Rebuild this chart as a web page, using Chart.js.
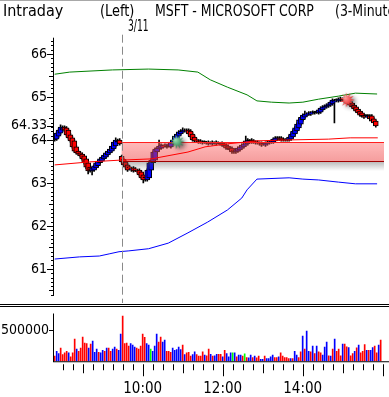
<!DOCTYPE html>
<html>
<head>
<meta charset="utf-8">
<script src="https://cdn.jsdelivr.net/npm/chart.js@4.4.1/dist/chart.umd.min.js"></script>
<style>
html, body { margin:0; padding:0; background:#fff; }
body { width:389px; height:397px; overflow:hidden; position:relative;
       font-family:'DejaVu Sans Condensed','DejaVu Sans',sans-serif; }
#topline { position:absolute; left:0; top:0; width:389px; height:1px; background:#a8a8a8; }
.t { position:absolute; font-size:16px; line-height:16px; white-space:nowrap; color:#000; transform-origin:0 0; }
canvas { position:absolute; left:0; top:0; }
</style>
</head>
<body>
<div id="topline"></div>
<canvas id="priceChart" width="389" height="397"></canvas>
<canvas id="volumeChart" width="389" height="397"></canvas>
<div class="t" style="left:3px;top:3px">Intraday</div>
<div class="t" style="left:100px;top:3px;transform:scaleX(0.9)">(Left)</div>
<div class="t" style="left:155px;top:3px;transform:scaleX(0.87)">MSFT - MICROSOFT CORP</div>
<div class="t" style="left:335px;top:3px;transform:scaleX(0.87)">(3-Minute)</div>
<div class="t" style="left:128px;top:19px;font-size:15px;line-height:15px;transform:scaleX(0.68)">3/11</div>
<script>
// time in minutes from the 3/11 open (9:30); the previous session (3/10) is negative
const axisStart = -103
const axisEnd = 399.5
const sessionBreak = 0

// previous session 3/10, 14:18 - 16:00, 3-minute bars
const prevOpen  = [64.00,64.02,64.09,64.16,64.23,64.30,64.28,64.23,64.12,64.05,63.98,63.84,63.74,63.70,63.67,63.63,63.56,63.47,63.37,63.28,63.30,63.35,63.40,63.47,63.51,63.56,63.60,63.65,63.70,63.74,63.79,63.86,63.95,64.00]
const prevHigh  = [64.12,64.19,64.26,64.35,64.33,64.33,64.31,64.26,64.15,64.08,64.01,63.87,63.77,63.73,63.70,63.66,63.59,63.50,63.40,63.37,63.42,63.49,63.53,63.58,63.62,63.67,63.72,63.76,63.81,63.88,63.98,64.05,64.02,64.03]
const prevLow   = [63.97,63.99,64.06,64.13,64.20,64.20,64.09,64.02,63.95,63.81,63.71,63.67,63.64,63.60,63.53,63.44,63.33,63.21,63.25,63.19,63.27,63.32,63.37,63.44,63.48,63.53,63.57,63.62,63.67,63.71,63.76,63.83,63.93,63.88]
const prevClose = [64.09,64.16,64.23,64.30,64.28,64.23,64.12,64.05,63.98,63.84,63.74,63.70,63.67,63.63,63.56,63.47,63.37,63.28,63.30,63.35,63.40,63.47,63.51,63.56,63.60,63.65,63.70,63.74,63.79,63.86,63.95,64.00,63.95,63.91]
const prevVolume = [81000,161000,124000,210000,108000,134000,161000,134000,69000,134000,355000,194000,161000,210000,387000,290000,285000,210000,274000,323000,145000,194000,145000,134000,177000,161000,210000,210000,161000,194000,226000,194000,177000,435000]
const prevVolDir = "duuddddudd" + "dudddddudu" + "uuduududdu" + "uduu"

// session 3/11, 9:30 - 15:57, 3-minute bars
const dayOpen = [
  63.62,63.55,63.49,63.42,63.37,63.30,63.35,63.33,63.28,63.30,
  63.26,63.19,63.12,63.07,63.12,63.30,63.47,63.53,63.72,63.79,
  63.81,63.86,63.88,63.84,63.86,63.84,63.91,63.95,64.00,64.09,
  64.14,64.19,64.21,64.23,64.23,64.21,64.14,64.07,64.00,63.98,
  63.98,63.95,63.95,63.93,63.95,63.93,63.91,63.93,63.95,63.93,
  63.91,63.93,63.91,63.88,63.86,63.81,63.81,63.77,63.72,63.74,
  63.77,63.81,63.84,63.88,63.91,63.98,64.00,63.98,63.95,63.95,
  63.93,63.93,63.91,63.88,63.91,63.93,63.95,63.95,63.98,64.02,
  64.05,64.05,64.02,64.00,64.00,64.00,64.02,64.07,64.14,64.21,
  64.28,64.37,64.47,64.53,64.58,64.60,64.60,64.63,64.63,64.65,
  64.63,64.65,64.70,64.74,64.77,64.79,64.81,64.84,64.88,64.93,
  64.91,64.93,64.95,64.95,64.93,64.91,64.88,64.86,64.81,64.77,
  64.72,64.67,64.63,64.58,64.56,64.53,64.56,64.56,64.49,64.44]
const dayHigh = [
  63.65,63.58,63.52,63.45,63.40,63.36,63.38,63.36,63.31,63.33,
  63.29,63.22,63.15,63.33,63.50,63.56,63.75,63.82,63.84,64.00,
  63.91,63.89,63.91,63.87,63.94,63.98,64.03,64.12,64.17,64.22,
  64.24,64.28,64.26,64.26,64.26,64.24,64.17,64.10,64.03,64.01,
  64.01,63.98,63.98,63.96,63.98,63.96,63.98,63.96,63.98,63.96,
  63.94,63.96,63.94,63.91,63.89,63.84,63.84,63.80,63.80,63.84,
  63.87,63.91,63.94,64.09,64.03,64.01,64.03,64.01,63.98,63.98,
  63.96,63.96,63.94,63.96,63.98,63.98,64.01,64.05,64.08,64.08,
  64.08,64.08,64.05,64.03,64.05,64.10,64.17,64.24,64.31,64.40,
  64.50,64.56,64.61,64.67,64.63,64.66,64.66,64.68,64.66,64.68,
  64.73,64.77,64.80,64.82,64.84,64.87,64.91,64.96,64.94,64.96,
  64.98,65.00,64.98,64.98,64.96,64.94,64.91,64.89,64.84,64.80,
  64.75,64.70,64.66,64.61,64.59,64.59,64.59,64.59,64.52,64.47]
const dayLow = [
  63.46,63.39,63.34,63.27,63.32,63.27,63.25,63.27,63.23,63.16,
  63.09,63.00,63.04,63.04,63.09,63.27,63.44,63.50,63.69,63.76,
  63.78,63.81,63.83,63.81,63.83,63.81,63.88,63.92,63.97,64.06,
  64.11,64.16,64.18,64.18,64.11,64.04,63.97,63.95,63.95,63.92,
  63.92,63.90,63.92,63.90,63.88,63.90,63.88,63.90,63.88,63.90,
  63.88,63.85,63.83,63.78,63.78,63.74,63.69,63.69,63.69,63.71,
  63.74,63.78,63.81,63.85,63.88,63.95,63.92,63.92,63.90,63.90,
  63.88,63.85,63.88,63.85,63.88,63.90,63.92,63.92,63.95,63.99,
  63.99,63.97,63.97,63.97,63.97,63.97,63.99,64.04,64.11,64.18,
  64.25,64.34,64.44,64.50,64.55,64.57,64.57,64.60,64.60,64.62,
  64.60,64.62,64.67,64.71,64.74,64.76,64.78,64.81,64.40,64.90,
  64.88,64.90,64.90,64.88,64.85,64.83,64.78,64.74,64.69,64.64,
  64.60,64.55,64.53,64.50,64.53,64.50,64.46,64.41,64.37,64.30]
const dayClose = [
  63.49,63.42,63.37,63.30,63.35,63.33,63.28,63.30,63.26,63.19,
  63.12,63.07,63.12,63.30,63.47,63.53,63.72,63.79,63.81,63.86,
  63.88,63.84,63.86,63.84,63.91,63.95,64.00,64.09,64.14,64.19,
  64.21,64.23,64.23,64.21,64.14,64.07,64.00,63.98,63.98,63.95,
  63.95,63.93,63.95,63.93,63.91,63.93,63.95,63.93,63.91,63.93,
  63.91,63.88,63.86,63.81,63.81,63.77,63.72,63.74,63.77,63.81,
  63.84,63.88,63.91,63.98,64.00,63.98,63.95,63.95,63.93,63.93,
  63.91,63.88,63.91,63.93,63.95,63.95,63.98,64.02,64.05,64.05,
  64.02,64.00,64.00,64.00,64.02,64.07,64.14,64.21,64.28,64.37,
  64.47,64.53,64.58,64.60,64.60,64.63,64.63,64.65,64.63,64.65,
  64.70,64.74,64.77,64.79,64.81,64.84,64.88,64.93,64.91,64.93,
  64.95,64.95,64.93,64.91,64.88,64.86,64.81,64.77,64.72,64.67,
  64.63,64.58,64.56,64.53,64.56,64.56,64.49,64.44,64.40,64.33]
const dayVolume = [
  726000,285000,290000,242000,285000,258000,226000,210000,194000,242000,
  435000,382000,285000,258000,194000,161000,242000,435000,306000,387000,
  306000,339000,161000,161000,145000,210000,177000,189000,226000,189000,
  258000,108000,134000,145000,81000,108000,150000,108000,81000,81000,
  150000,97000,85000,194000,113000,81000,85000,113000,113000,113000,
  69000,177000,124000,69000,134000,134000,134000,69000,97000,97000,
  81000,118000,60000,53000,97000,60000,81000,53000,81000,32000,
  32000,81000,44000,44000,69000,97000,60000,60000,69000,134000,
  81000,60000,60000,44000,44000,44000,161000,97000,60000,150000,
  403000,194000,484000,161000,150000,242000,124000,242000,150000,134000,
  97000,226000,306000,85000,81000,194000,355000,161000,194000,85000,
  274000,274000,231000,221000,85000,124000,161000,215000,258000,134000,
  161000,269000,177000,177000,177000,221000,242000,134000,258000,339000]
const dayVolDir = "dddduuuddd" + "dduunuuudd" + "uuddduuuuu" + "dudd" +
  "duuddddudd" + "uduudduduu" + "unuduudndu" + "ududduuduu" + "uudduddddd" +
  "uduudduduu" + "dududduuud" + "ududdduddu" + "ddududddud" + "uuddud"

// indicator lines (time, price)
const upperTime = [-102,-79,-14,41,86,116,135,161,191,206,228,255,276,300,330,356,389]
const upperBand = [65.53,65.58,65.63,65.65,65.63,65.58,65.40,65.23,65.05,64.91,64.88,64.86,64.88,64.95,65.02,65.09,65.07]
const maTime = [-102,-49,-4,45,101,127,161,206,251,315,348,390]
const maLine = [63.42,63.49,63.53,63.56,63.72,63.84,63.91,63.98,64.00,64.02,64.05,64.05]
const lowerTime = [-102,-64,-34,-19,-4,11,41,71,101,131,161,183,191,206,255,276,300,330,356,389]
const lowerBand = [61.23,61.28,61.30,61.35,61.40,61.42,61.47,61.60,61.84,62.09,62.37,62.65,62.84,63.09,63.12,63.09,63.07,63.02,62.98,62.98]

// shaded price zone from the 3/11 open
const zoneLow = 63.51
const zoneHigh = 63.95

// signal markers
const signalTime = [86, 345]
const signalPrice = [63.94, 64.91]
const signalKind = ['buy', 'sell']

// axis labels
const priceTicks = [61, 62, 63, 64, 65, 66]
const timeLabelAt = [30, 150, 270]
const timeLabels = ['10:00', '12:00', '14:00']
const volumeTicks = [500000]

// ---- build series
const times = []
for (let i = 0; i < prevOpen.length; i++) times.push(-102 + 3 * i)
for (let i = 0; i < dayOpen.length; i++) times.push(3 * i)
const opens = prevOpen.concat(dayOpen)
const highs = prevHigh.concat(dayHigh)
const lows = prevLow.concat(dayLow)
const closes = prevClose.concat(dayClose)
const volumes = prevVolume.concat(dayVolume)
const volDir = (prevVolDir + dayVolDir).split('')
const lastPrice = dayClose[dayClose.length - 1]

const bodyColors = opens.map((o, i) => closes[i] > o ? '#0000ff' : closes[i] < o ? '#ff0000' : '#000000')
const dirColor = { u: '#0000ff', d: '#ff0000', n: '#00ff00' }

function pairs(ts, vs) { return ts.map((t, i) => ({ x: t, y: vs[i] })) }

function burst(light, dark) {
    const c = document.createElement('canvas')
    c.width = 26; c.height = 26
    const g = c.getContext('2d')
    g.shadowColor = 'rgba(40,40,40,0.6)'
    g.shadowBlur = 4
    g.shadowOffsetX = 3
    g.shadowOffsetY = 2
    g.beginPath()
    const n = 11
    for (let i = 0; i < 2 * n; i++) {
        const r = i % 2 ? 3.5 : 7.5
        const a = i * Math.PI / n
        g.lineTo(12 + r * Math.cos(a), 12 + r * Math.sin(a))
    }
    g.closePath()
    const grad = g.createRadialGradient(10, 10, 0.5, 12, 12, 8)
    grad.addColorStop(0, light)
    grad.addColorStop(1, dark)
    g.fillStyle = grad
    g.fill()
    return c
}
const markerImg = { buy: burst('#9be0b0', '#0a6a3a'), sell: burst('#ff9a9a', '#e00000') }

Chart.defaults.font.family = "'DejaVu Sans Condensed','DejaVu Sans',sans-serif"
Chart.defaults.color = '#000'

const zonePlugin = {
    id: 'zone',
    afterDatasetDraw(chart, args) {
        if (chart.data.datasets[args.index].label !== 'bodies') return
        const { ctx, chartArea: a, scales: { x, y } } = chart
        const left = x.getPixelForValue(sessionBreak)
        const top = Math.round(y.getPixelForValue(zoneHigh))
        const bot = Math.round(y.getPixelForValue(zoneLow))
        ctx.save()
        const fill = ctx.createLinearGradient(0, top, 0, bot)
        fill.addColorStop(0, 'rgba(255,90,90,0.42)')
        fill.addColorStop(1, 'rgba(235,60,60,0.5)')
        ctx.fillStyle = fill
        ctx.fillRect(left, top, a.right - left, bot - top)
        const sh = ctx.createLinearGradient(0, bot, 0, bot + 10)
        sh.addColorStop(0, 'rgba(90,90,90,0.45)')
        sh.addColorStop(1, 'rgba(90,90,90,0)')
        ctx.fillStyle = sh
        ctx.fillRect(left, bot + 1, a.right - left, 10)
        ctx.lineWidth = 1
        ctx.strokeStyle = '#ff2020'
        ctx.beginPath(); ctx.moveTo(left, top + 0.5); ctx.lineTo(a.right, top + 0.5); ctx.stroke()
        ctx.strokeStyle = '#a00000'
        ctx.beginPath(); ctx.moveTo(left, bot + 0.5); ctx.lineTo(a.right, bot + 0.5); ctx.stroke()
        ctx.restore()
    }
}

const priceAxisPlugin = {
    id: 'priceAxis',
    afterDraw(chart) {
        const { ctx, chartArea: a, scales: { x, y } } = chart
        ctx.save()
        ctx.strokeStyle = '#000'
        ctx.lineWidth = 1
        ctx.beginPath()
        ctx.moveTo(a.left - 0.5, a.top)
        ctx.lineTo(a.left - 0.5, a.bottom)
        for (let v = Math.ceil(y.min * 10); v <= Math.floor(y.max * 10); v++) {
            const py = Math.round(y.getPixelForValue(v / 10)) + 0.5
            const len = v % 10 === 0 ? 7 : (v % 5 === 0 ? 5 : 3)
            ctx.moveTo(a.left - len, py)
            ctx.lineTo(a.left, py)
        }
        const lp = Math.round(y.getPixelForValue(lastPrice)) + 0.5
        ctx.moveTo(a.left - 7, lp)
        ctx.lineTo(a.left, lp)
        ctx.stroke()

        const sx = Math.round(x.getPixelForValue(sessionBreak)) + 0.5
        ctx.strokeStyle = '#8a8a8a'
        ctx.setLineDash([8, 4])
        ctx.beginPath()
        ctx.moveTo(sx, a.top - 3)
        ctx.lineTo(sx, a.bottom + 7)
        ctx.stroke()
        ctx.restore()
    }
}

const volumeAxisPlugin = {
    id: 'volumeAxis',
    afterDraw(chart) {
        const { ctx, chartArea: a, scales: { x, y } } = chart
        ctx.save()
        ctx.strokeStyle = '#000'
        ctx.lineWidth = 1
        ctx.beginPath()
        // panel separator
        ctx.moveTo(0, 304.5); ctx.lineTo(chart.width, 304.5)
        ctx.moveTo(0, 306.5); ctx.lineTo(chart.width, 306.5)
        ctx.moveTo(a.left - 0.5, a.top)
        ctx.lineTo(a.left - 0.5, a.bottom + 1)
        ctx.moveTo(a.left, a.bottom + 0.5)
        ctx.lineTo(a.right, a.bottom + 0.5)
        volumeTicks.forEach(v => {
            const py = Math.round(y.getPixelForValue(v)) + 0.5
            ctx.moveTo(a.left - 5, py)
            ctx.lineTo(a.left, py)
        })
        for (let t = Math.ceil(x.min / 15) * 15; t <= x.max; t += 15) {
            const clock = t < sessionBreak ? 16 * 60 + t : 9 * 60 + 30 + t
            const len = clock % 120 === 0 ? 12 : (clock % 60 === 0 ? 9 : 6)
            const px = Math.round(x.getPixelForValue(t)) + 0.5
            ctx.moveTo(px, a.bottom + 3)
            ctx.lineTo(px, a.bottom + 3 + len)
        }
        ctx.stroke()
        ctx.restore()
    }
}

new Chart('priceChart', {
    data: {
        datasets: [{
            type: 'bar',
            label: 'wicks',
            data: times.map((t, i) => ({ x: t, y: [lows[i], highs[i]] })),
            backgroundColor: '#000',
            barThickness: 1,
            grouped: false,
            order: 6
        }, {
            type: 'bar',
            label: 'bodies',
            data: times.map((t, i) => ({ x: t, y: [opens[i], closes[i]] })),
            backgroundColor: bodyColors,
            borderColor: '#000',
            borderWidth: 1,
            borderSkipped: false,
            barThickness: 5,
            minBarLength: 1,
            grouped: false,
            order: 5
        }, {
            type: 'line',
            label: 'ma',
            data: pairs(maTime, maLine),
            borderColor: '#ff0000',
            borderWidth: 1,
            pointRadius: 0,
            tension: 0,
            order: 3
        }, {
            type: 'line',
            label: 'upper',
            data: pairs(upperTime, upperBand),
            borderColor: '#008000',
            borderWidth: 1,
            pointRadius: 0,
            tension: 0,
            order: 3
        }, {
            type: 'line',
            label: 'lower',
            data: pairs(lowerTime, lowerBand),
            borderColor: '#0000ff',
            borderWidth: 1,
            pointRadius: 0,
            tension: 0,
            order: 3
        }, {
            type: 'scatter',
            label: 'signals',
            data: pairs(signalTime, signalPrice),
            pointStyle: signalKind.map(k => markerImg[k]),
            order: 0
        }]
    },
    options: {
        responsive: false,
        animation: false,
        events: [],
        layout: { padding: { top: 37.7, bottom: 101, left: 0, right: 0 } },
        plugins: { legend: { display: false }, tooltip: { enabled: false } },
        scales: {
            x: { type: 'linear', min: axisStart, max: axisEnd, offset: false, display: false },
            y: {
                type: 'linear', min: 60.37, max: 66.38,
                grid: { display: false, drawTicks: false },
                border: { display: false },
                afterBuildTicks: s => { s.ticks = priceTicks.map(v => ({ value: v })).concat([{ value: lastPrice }]) },
                afterFit: s => { s.width = 54 },
                ticks: {
                    autoSkip: false, padding: 7, font: { size: 14 },
                    callback: v => v === lastPrice ? v.toFixed(2) : String(v)
                }
            }
        }
    },
    plugins: [zonePlugin, priceAxisPlugin]
})

new Chart('volumeChart', {
    type: 'bar',
    data: {
        datasets: [{
            label: 'volume',
            data: pairs(times, volumes),
            backgroundColor: volDir.map(d => dirColor[d]),
            barThickness: 1,
            borderWidth: 0
        }]
    },
    options: {
        responsive: false,
        animation: false,
        events: [],
        layout: { padding: { top: 313.5, bottom: -12, left: 0, right: 0 } },
        plugins: { legend: { display: false }, tooltip: { enabled: false } },
        scales: {
            x: {
                type: 'linear', min: axisStart, max: axisEnd, offset: false,
                grid: { display: false, drawTicks: false },
                border: { display: false },
                afterBuildTicks: s => { s.ticks = timeLabelAt.map(v => ({ value: v })) },
                ticks: {
                    autoSkip: false, maxRotation: 0, padding: 20,
                    font: { size: 15, lineHeight: 1.1 },
                    callback: v => timeLabels[timeLabelAt.indexOf(v)]
                }
            },
            y: {
                min: 0, max: 766000,
                grid: { display: false, drawTicks: false },
                border: { display: false },
                afterBuildTicks: s => { s.ticks = volumeTicks.map(v => ({ value: v })) },
                afterFit: s => { s.width = 54 },
                ticks: { autoSkip: false, padding: 5, font: { size: 14 }, callback: v => String(v) }
            }
        }
    },
    plugins: [volumeAxisPlugin]
})
</script>
</body>
</html>
